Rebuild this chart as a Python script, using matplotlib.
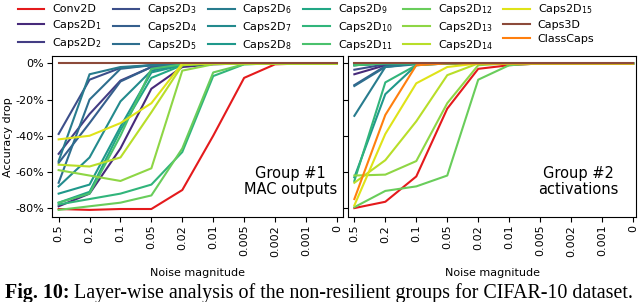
import numpy as np
import matplotlib
matplotlib.use("Agg")
import matplotlib.pyplot as plt

noise = ["0.5", "0.2", "0.1", "0.05", "0.02", "0.01", "0.005", "0.002", "0.001", "0"]
layers = ["Conv2D"] + ["Caps2D$_{%d}$" % i for i in range(1, 16)] + ["Caps3D", "ClassCaps"]

# accuracy drop (%) per layer, group 1: MAC outputs
g1_conv = [-80.5, -81, -80.5, -80.5, -70, -40, -8, -0.5, 0, 0]
g1_caps2d = [
    [-79, -72, -47, -14, -2, -0.5, 0, 0, 0, 0],
    [-50, -28, -9.5, -2, -0.5, 0, 0, 0, 0, 0],
    [-39, -9, -2.5, -1, 0, 0, 0, 0, 0, 0],
    [-55, -33, -10, -2, -0.5, 0, 0, 0, 0, 0],
    [-66, -20, -3, -1, 0, 0, 0, 0, 0, 0],
    [-54, -6, -2, -1, 0, 0, 0, 0, 0, 0],
    [-68, -52, -21, -4, -0.5, 0, 0, 0, 0, 0],
    [-72, -67, -35, -5, -1, 0, 0, 0, 0, 0],
    [-77, -71, -37, -8, -1, 0, 0, 0, 0, 0],
    [-78, -75, -72, -67, -49, -7, -0.5, 0, 0, 0],
    [-77, -72, -40, -3, -0.5, 0, 0, 0, 0, 0],
    [-81, -79, -77, -73, -47, -5, -0.5, 0, 0, 0],
    [-59, -62, -65, -58, -4, -0.5, 0, 0, 0, 0],
    [-56, -57, -52, -27, -1, 0, 0, 0, 0, 0],
    [-42, -40, -33, -22, 0, 0, 0, 0, 0, 0],
]
g1_caps3d = [0, 0, 0, 0, 0, 0, 0, 0, 0, 0]
g1_class = None

# group 2: activations
g2_conv = [-80, -76.5, -62.5, -25, -3, -1, 0, 0, 0, 0]
g2_caps2d = [
    [-6, -1, 0, 0, 0, 0, 0, 0, 0, 0],
    [-1, 0, 0, 0, 0, 0, 0, 0, 0, 0],
    [-3.5, -0.5, 0, 0, 0, 0, 0, 0, 0, 0],
    [-12, -1.5, 0, 0, 0, 0, 0, 0, 0, 0],
    [-12.5, -2, 0, 0, 0, 0, 0, 0, 0, 0],
    [-29, -2, -0.5, 0, 0, 0, 0, 0, 0, 0],
    [-1, 0, 0, 0, 0, 0, 0, 0, 0, 0],
    [-63, -17, -1, 0, 0, 0, 0, 0, 0, 0],
    [-1, 0, 0, 0, 0, 0, 0, 0, 0, 0],
    [-65, -10.5, -1, 0, 0, 0, 0, 0, 0, 0],
    [-1, 0, 0, 0, 0, 0, 0, 0, 0, 0],
    [-79.5, -70.5, -68, -62, -9, -1, 0, 0, 0, 0],
    [-62, -61.5, -54, -22, -1, 0, 0, 0, 0, 0],
    [-66, -53.5, -32, -6.5, 0, 0, 0, 0, 0, 0],
    [-78.5, -39, -11, -2, 0, 0, 0, 0, 0, 0],
]
g2_caps3d = [0, 0, 0, 0, 0, 0, 0, 0, 0, 0]
g2_class = [-75, -28.5, -1, 0, 0, 0, 0, 0, 0, 0]

caps_colors = plt.cm.viridis(np.linspace(0.12, 0.95, 15))

fig = plt.figure(figsize=(6.4, 3.02), dpi=100)
ax1 = fig.add_axes([0.081, 0.281, 0.455, 0.533])
ax2 = fig.add_axes([0.544, 0.281, 0.450, 0.533], sharey=ax1)

x = np.arange(len(noise))


def draw(ax, conv, caps2d, caps3d, classcaps):
    hs = []
    hs.append(ax.plot(x, conv, color="#e41a1c", lw=1.5)[0])
    for i, vals in enumerate(caps2d):
        hs.append(ax.plot(x, vals, color=caps_colors[i], lw=1.5)[0])
    hs.append(ax.plot(x, caps3d, color="#8c4a3a", lw=1.5, zorder=3)[0])
    if classcaps is not None:
        hs.append(ax.plot(x, classcaps, color="#ff7f0e", lw=1.5)[0])
    else:
        hs.append(ax.plot([], [], color="#ff7f0e", lw=1.5)[0])
    return hs


handles = draw(ax1, g1_conv, g1_caps2d, g1_caps3d, g1_class)
draw(ax2, g2_conv, g2_caps2d, g2_caps3d, g2_class)

for ax in (ax1, ax2):
    ax.set_xticks(x)
    ax.set_xticklabels(noise, rotation=90, fontsize=8)
    ax.set_xlabel("Noise magnitude", fontsize=8, labelpad=8)
    ax.tick_params(axis="both", labelsize=8, pad=2)
ax1.set_xlim(-0.22, 9.2)
ax2.set_xlim(-0.2, 9.1)
ax1.set_ylim(-85, 4)
ax1.set_yticks([0, -20, -40, -60, -80])
ax1.set_yticklabels(["0%", "-20%", "-40%", "-60%", "-80%"])
ax1.set_ylabel("Accuracy drop", fontsize=8, labelpad=2)
plt.setp(ax2.get_yticklabels(), visible=False)

ax1.text(0.82, 0.22, "Group #1\nMAC outputs", transform=ax1.transAxes,
         ha="center", va="center", fontsize=10.5, linespacing=1.1)
ax2.text(0.80, 0.22, "Group #2\nactivations", transform=ax2.transAxes,
         ha="center", va="center", fontsize=10.5, linespacing=1.1)

# legend reads column-wise in 6 columns of 3
fig.legend(handles, layers, ncol=6, loc="upper left", bbox_to_anchor=(0.012, 1.025),
           frameon=False, fontsize=8, handlelength=2.4, handletextpad=0.7,
           columnspacing=1.0, labelspacing=0.35)

# caption: bold prefix followed by plain text
cap_bold = fig.text(0.008, 0.03, "Fig. 10:", ha="left", va="center", fontsize=14.4,
                    family="Liberation Serif", weight="bold")
fig.canvas.draw()
bb = cap_bold.get_window_extent()
x_next = (bb.x1 + 4) / fig.bbox.width
fig.text(x_next, 0.03, "Layer-wise analysis of the non-resilient groups for CIFAR-10 dataset.",
         ha="left", va="center", fontsize=14.4, family="Liberation Serif")

fig.savefig("out.png", dpi=100)
